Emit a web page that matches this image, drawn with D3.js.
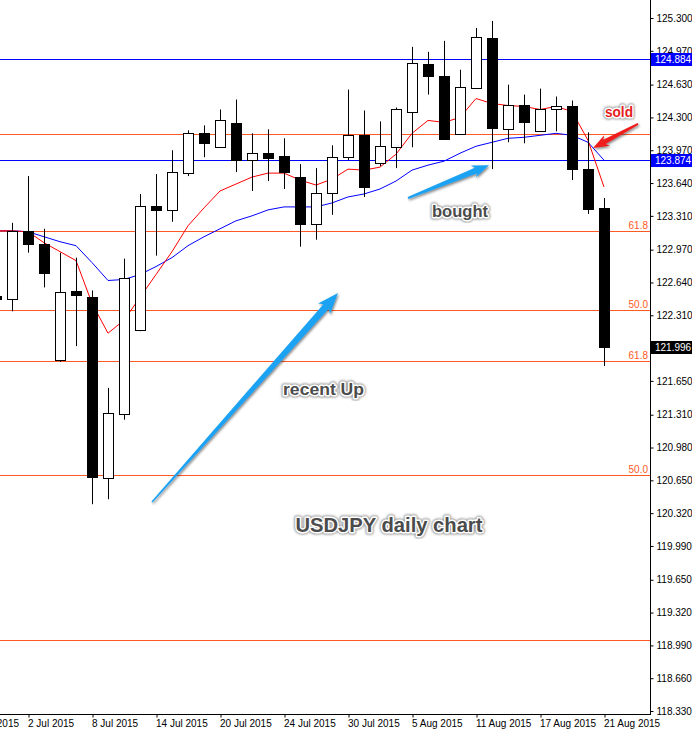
<!DOCTYPE html>
<html><head><meta charset="utf-8">
<script src="https://cdn.jsdelivr.net/npm/d3@7"></script>
<style>body{margin:0;background:#fff;} svg{display:block;}</style>
</head><body>
<svg id="c" width="692" height="731"></svg>
<script>
// ---------- data ----------
const dates = ["30 Jun","1 Jul","2 Jul","3 Jul","6 Jul","7 Jul","8 Jul","9 Jul","10 Jul","13 Jul",
  "14 Jul","15 Jul","16 Jul","17 Jul","20 Jul","21 Jul","22 Jul","23 Jul","24 Jul","27 Jul",
  "28 Jul","29 Jul","30 Jul","31 Jul","3 Aug","4 Aug","5 Aug","6 Aug","7 Aug","10 Aug",
  "11 Aug","12 Aug","13 Aug","14 Aug","17 Aug","18 Aug","19 Aug","20 Aug","21 Aug"];
const openV  = [122.50,122.48,123.16,123.03,121.86,122.55,122.49,120.68,121.32,122.16,
  123.41,123.37,123.74,124.14,124.00,124.24,123.87,123.94,123.91,123.70,
  123.23,123.54,123.90,124.12,123.84,124.00,124.36,124.84,124.72,124.14,
  124.60,125.10,124.19,124.43,124.16,124.38,124.41,123.78,123.39];
const highV  = [122.62,123.24,123.71,123.18,122.94,122.89,122.56,121.58,122.88,123.53,
  123.73,123.97,124.17,124.22,124.38,124.48,124.14,124.18,124.09,123.83,
  123.79,124.02,124.58,124.37,124.26,124.40,125.01,124.96,125.07,124.78,
  125.20,125.27,124.63,124.53,124.59,124.51,124.47,124.15,123.49];
const lowV   = [122.38,122.35,122.94,122.59,121.84,122.00,120.41,120.46,121.26,122.15,
  122.91,123.25,123.71,123.90,124.00,123.75,123.56,123.66,123.58,123.00,
  123.07,123.32,123.87,123.50,123.81,123.79,124.00,124.53,124.09,124.14,
  124.60,123.78,124.05,124.04,124.16,124.16,123.67,123.33,121.80];
const closeV = [122.47,123.16,123.03,122.74,122.54,122.51,120.68,121.33,122.69,123.41,
  123.37,123.75,124.14,124.04,124.27,123.87,123.94,123.89,123.75,123.23,
  123.54,123.90,124.12,123.60,124.01,124.38,124.85,124.72,124.09,124.61,
  125.11,124.19,124.43,124.26,124.38,124.41,123.78,123.38,121.996];
const maRed  = [123.16,123.16,123.15,123.04,122.95,122.86,122.43,122.13,122.26,122.49,
  122.72,122.95,123.21,123.39,123.56,123.63,123.70,123.74,123.74,123.67,
  123.62,123.68,123.78,123.77,123.80,123.93,124.14,124.27,124.25,124.30,
  124.49,124.44,124.42,124.41,124.38,124.41,124.36,124.07,123.60];
const maBlue = [123.16,123.16,123.15,123.10,123.05,123.01,122.84,122.66,122.67,122.72,
  122.80,122.89,123.01,123.10,123.18,123.26,123.31,123.37,123.40,123.40,
  123.40,123.44,123.50,123.53,123.58,123.66,123.77,123.82,123.86,123.94,
  124.01,124.05,124.09,124.10,124.12,124.14,124.12,124.05,123.87];
const priceTicks = ["125.300","124.970","124.630","124.300","123.970","123.640","123.310",
  "122.970","122.640","122.310","121.650","121.310","120.980","120.650","120.320",
  "119.990","119.650","119.320","118.990","118.660","118.330"];
const dateLabels = ["26 Jun 2015","2 Jul 2015","8 Jul 2015","14 Jul 2015","20 Jul 2015",
  "24 Jul 2015","30 Jul 2015","5 Aug 2015","11 Aug 2015","17 Aug 2015","21 Aug 2015"];
const dateLabelIdx = [-2,2,6,10,14,18,22,26,30,34,38];
const blueLevels = [124.884, 123.874];
const fibLevels = [124.133, 123.158, 122.363, 121.850, 120.704, 119.044];
const fibTags = ["", "61.8", "50.0", "61.8", "50.0", ""];
const lastPrice = 121.996;

// ---------- layout ----------
const plotR = 650, plotB = 714;
const svg = d3.select("#c");
const x = d3.scaleLinear().domain([0, 38]).range([-4, 604]);
const y = d3.scaleLinear().domain([118.33, 125.30]).range([711, 18]);
const ORANGE = "#ff5a22";
const AX_FONT = "'Liberation Sans', Arial, sans-serif";

const defs = svg.append("defs");
defs.append("clipPath").attr("id","clip").append("rect")
  .attr("x",0).attr("y",0).attr("width",plotR).attr("height",plotB);
const sh = defs.append("filter").attr("id","shadow").attr("x","-20%").attr("y","-20%").attr("width","140%").attr("height","140%");
sh.append("feDropShadow").attr("dx",1).attr("dy",1.5).attr("stdDeviation",1)
  .attr("flood-color","#222").attr("flood-opacity",0.55);
const glow = defs.append("filter").attr("id","glow");
glow.append("feGaussianBlur").attr("stdDeviation",0.8);

const plot = svg.append("g").attr("clip-path","url(#clip)");

// horizontal levels
const crisp = v => Math.round(y(v)) + 0.5;
plot.selectAll("line.fib").data(fibLevels).join("line").attr("class","fib")
  .attr("x1",0).attr("x2",plotR).attr("y1",crisp).attr("y2",crisp)
  .attr("stroke",ORANGE).attr("stroke-width",1);
plot.selectAll("line.blv").data(blueLevels).join("line").attr("class","blv")
  .attr("x1",0).attr("x2",plotR).attr("y1",crisp).attr("y2",crisp)
  .attr("stroke","#0000ff").attr("stroke-width",1);
plot.selectAll("text.fibt").data(fibLevels).join("text").attr("class","fibt")
  .attr("x",plotR-2).attr("y",d=>Math.round(y(d))-2)
  .attr("text-anchor","end").attr("font-family",AX_FONT).attr("font-size",10)
  .attr("fill",ORANGE).text((d,i)=>fibTags[i]);

// moving averages
const line = d3.line().x((d,i)=>x(i)).y(d=>y(d));
plot.append("path").datum(maBlue).attr("d",line).attr("fill","none").attr("stroke","#0000ff").attr("stroke-width",1);
plot.append("path").datum(maRed).attr("d",line).attr("fill","none").attr("stroke","#ff0000").attr("stroke-width",1);

// candles
const idx = d3.range(dates.length);
plot.selectAll("line.wick").data(idx).join("line").attr("class","wick")
  .attr("x1",i=>Math.round(x(i))+0.5).attr("x2",i=>Math.round(x(i))+0.5)
  .attr("y1",i=>y(highV[i])).attr("y2",i=>y(lowV[i]))
  .attr("stroke","#000").attr("stroke-width",1);
plot.selectAll("rect.body").data(idx).join("rect").attr("class","body")
  .attr("x",i=>Math.round(x(i))-5+0.5)
  .attr("width",10)
  .attr("y",i=>Math.round(y(Math.max(openV[i],closeV[i])))+0.5)
  .attr("height",i=>Math.max(1,Math.round(Math.abs(y(openV[i])-y(closeV[i])))))
  .attr("fill",i=>closeV[i]>=openV[i]?"#fff":"#000")
  .attr("stroke","#000").attr("stroke-width",1);

// axes
svg.append("line").attr("x1",plotR+0.5).attr("x2",plotR+0.5).attr("y1",0).attr("y2",plotB+1)
  .attr("stroke","#000");
svg.append("line").attr("x1",0).attr("x2",plotR+1).attr("y1",plotB+0.5).attr("y2",plotB+0.5)
  .attr("stroke","#000");

const yAxis = d3.axisRight(y).tickValues(priceTicks.map(Number))
  .tickFormat((d,i)=>priceTicks[i]).tickSize(3).tickPadding(3);
const gy = svg.append("g").attr("transform",`translate(${plotR+0.5},0)`).call(yAxis);
gy.select(".domain").remove();
gy.selectAll("text").attr("font-family",AX_FONT).attr("font-size",10).attr("fill","#000");
gy.selectAll("line").attr("stroke","#000");

const xAxis = d3.axisBottom(x).tickValues(dateLabelIdx)
  .tickFormat((d,i)=>dateLabels[i]).tickSize(3).tickPadding(2);
const gx = svg.append("g").attr("transform",`translate(0.5,${plotB+0.5})`).call(xAxis);
gx.select(".domain").remove();
gx.selectAll("text").attr("font-family",AX_FONT).attr("font-size",10).attr("fill","#000")
  .attr("text-anchor","start").attr("dx",-1);
gx.selectAll("line").attr("stroke","#000");

// price labels on axis
const tags = [{v:blueLevels[0],bg:"#0000ff"},{v:blueLevels[1],bg:"#0000ff"},{v:lastPrice,bg:"#000"}];
const tg = svg.append("g").selectAll("g").data(tags).join("g");
tg.append("rect").attr("x",plotR+1).attr("width",41).attr("y",d=>Math.round(y(d.v))-6).attr("height",13)
  .attr("fill",d=>d.bg);
tg.append("text").attr("x",plotR+5).attr("y",d=>Math.round(y(d.v))+4)
  .attr("font-family",AX_FONT).attr("font-size",10).attr("fill","#fff").text(d=>d.v.toFixed(3));

// ---------- annotations (anchored in data space) ----------
function arrow(t0, t1, tailW, shaftW, headW, headL, color){
  const ax = x(t0[0]), ay = y(t0[1]), bx = x(t1[0]), by = y(t1[1]);
  const L = Math.hypot(bx-ax, by-ay), ux=(bx-ax)/L, uy=(by-ay)/L, nx=-uy, ny=ux;
  const hx = bx-ux*headL, hy = by-uy*headL;
  const bbx = hx-ux*3, bby = hy-uy*3;
  const pts = [
    [ax+nx*tailW/2, ay+ny*tailW/2],
    [hx+nx*shaftW/2, hy+ny*shaftW/2],
    [bbx+nx*headW/2, bby+ny*headW/2],
    [bx, by],
    [bbx-nx*headW/2, bby-ny*headW/2],
    [hx-nx*shaftW/2, hy-ny*shaftW/2],
    [ax-nx*tailW/2, ay-ny*tailW/2]
  ];
  svg.append("path").attr("d","M"+pts.map(p=>p.join(",")).join("L")+"Z")
    .attr("fill",color).attr("filter","url(#shadow)");
}
arrow([9.75,120.432],[21.375,122.534],1.5,7,16,18,"#1ea2f3");
arrow([25.75,123.49],[30.81,123.82],2,6,13,14,"#1ea2f3");
arrow([40.125,124.234],[37.31,123.993],2,5,12,13,"#ee1d1d");

const notes = [
  {t:"USDJPY daily chart", i:24.56, p:120.131, anchor:"middle", size:20, w:187, fill:"#4b4b4b"},
  {t:"recent Up", i:17.94, p:121.508, anchor:"start", size:17, w:81, fill:"#4b4b4b"},
  {t:"bought", i:27.25, p:123.299, anchor:"start", size:17, w:56, fill:"#4b4b4b"},
  {t:"sold", i:38.06, p:124.304, anchor:"start", size:14.5, w:28, fill:"#e51b1b"}
];
const FONT_B = "'Liberation Sans', Arial, Helvetica, sans-serif";
notes.forEach(n=>{
  const g = svg.append("g");
  [["#9a9a9a",5,"url(#glow)"],["#ffffff",3,null]].forEach(([c,w,f])=>{
    const t = g.append("text").attr("x",x(n.i)).attr("y",y(n.p)).attr("text-anchor",n.anchor)
      .attr("font-family",FONT_B).attr("font-weight","bold").attr("font-size",n.size)
      .attr("textLength",n.w).attr("lengthAdjust","spacingAndGlyphs")
      .attr("fill","none").attr("stroke",c).attr("stroke-width",w).attr("stroke-linejoin","round").text(n.t);
    if(f) t.attr("filter",f);
  });
  g.append("text").attr("x",x(n.i)).attr("y",y(n.p)).attr("text-anchor",n.anchor)
    .attr("font-family",FONT_B).attr("font-weight","bold").attr("font-size",n.size)
    .attr("textLength",n.w).attr("lengthAdjust","spacingAndGlyphs")
    .attr("fill",n.fill).text(n.t);
});
</script>
</body></html>
